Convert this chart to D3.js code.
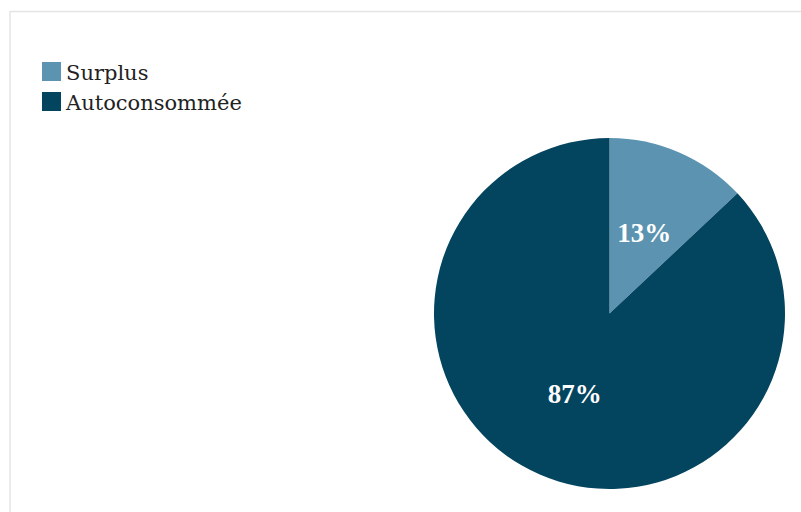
<!DOCTYPE html>
<html><head><meta charset="utf-8">
<script src="https://cdn.jsdelivr.net/npm/d3@7"></script>
<style>html,body{margin:0;padding:0;background:#fff;}svg{display:block;}</style>
</head><body>
<script>
const categories = ["Surplus", "Autoconsommée"];
const values = [13, 87];
const labels = ["13%", "87%"];
const colors = ["#5b93b0", "#03445f"];

const W = 801, H = 512;
const svg = d3.select("body").append("svg").attr("width", W).attr("height", H);

// frame
svg.append("line").attr("x1", 10).attr("x2", W).attr("y1", 11.5).attr("y2", 11.5).attr("stroke", "#e4e4e4").attr("stroke-width", 1.5);
svg.append("line").attr("x1", 10).attr("x2", 10).attr("y1", 11).attr("y2", H).attr("stroke", "#e4e4e4").attr("stroke-width", 1.5);

const cx = 609.5, cy = 313.5, r = 175.5;
const color = d3.scaleOrdinal().domain(categories).range(colors);
const pie = d3.pie().sort(null).value(d => d.v);
const data = categories.map((c, i) => ({c, v: values[i], l: labels[i]}));
const arcs = pie(data);
const arc = d3.arc().innerRadius(0).outerRadius(r);

const g = svg.append("g").attr("transform", `translate(${cx},${cy})`);
g.selectAll("path").data(arcs).join("path")
  .attr("d", arc).attr("fill", d => color(d.data.c));
g.selectAll("text").data(arcs).join("text")
  .attr("transform", d => `translate(${arc.centroid(d)})`)
  .attr("text-anchor", "middle").attr("dy", "0.35em")
  .attr("font-family", "'Liberation Serif', serif").attr("font-weight", "bold")
  .attr("font-size", 27).attr("fill", "#fff")
  .text(d => d.data.l);

// legend
const lg = svg.append("g");
categories.forEach((c, i) => {
  const y = 62 + i * 30;
  lg.append("rect").attr("x", 42).attr("y", y).attr("width", 19).attr("height", 19).attr("fill", color(c));
  lg.append("text").attr("x", 66).attr("y", y + 18).attr("font-family", "'DejaVu Serif', serif")
    .attr("font-size", 21).attr("fill", "#222").text(c);
});
</script>
</body></html>
